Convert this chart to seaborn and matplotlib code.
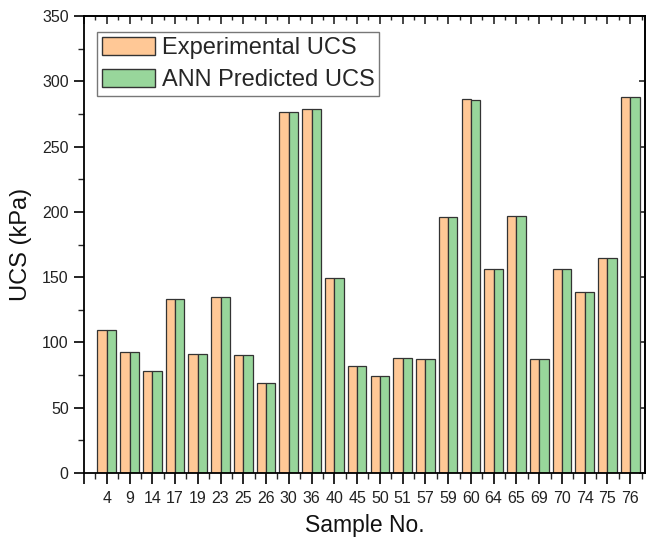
import numpy as np
import pandas as pd
import matplotlib
matplotlib.use("Agg")
import matplotlib.pyplot as plt
from matplotlib.patches import Patch
from matplotlib.ticker import FixedLocator, MultipleLocator
import seaborn as sns

# Sample numbers and measured / predicted unconfined compressive strength (kPa)
samples = ["4", "9", "14", "17", "19", "23", "25", "26", "30", "36", "40", "45",
           "50", "51", "57", "59", "60", "64", "65", "69", "70", "74", "75", "76"]
experimental = [109.3, 92.6, 78.1, 133.5, 90.9, 134.5, 90.3, 68.7, 276.2, 278.5, 149.5, 82.2,
                74.3, 88.3, 87.5, 196.0, 286.1, 156.0, 197.0, 87.5, 156.0, 138.8, 164.6, 288.1]
predicted = [109.2, 92.5, 78.0, 133.4, 90.8, 134.6, 90.2, 68.6, 276.1, 278.6, 149.4, 82.1,
             74.2, 88.2, 87.4, 196.1, 286.0, 156.1, 197.1, 87.4, 156.1, 138.7, 164.5, 288.2]
series_names = ["Experimental UCS", "ANN Predicted UCS"]
colors = ["#FFC896", "#98D69B"]

df = pd.DataFrame({
    "Sample": samples * 2,
    "UCS": experimental + predicted,
    "Series": [series_names[0]] * len(samples) + [series_names[1]] * len(samples),
})

sns.set_theme(style="ticks")
plt.rcParams["font.family"] = ["Liberation Sans", "DejaVu Sans"]

W, H = 646, 539
fig = plt.figure(figsize=(W / 100, H / 100), dpi=100)
ax = fig.add_axes([84 / W, 1 - 473 / H, (645 - 84) / W, (473 - 16) / H])

sns.barplot(data=df, x="Sample", y="UCS", hue="Series", order=samples,
            hue_order=series_names, palette=colors, width=0.82, gap=0,
            edgecolor="#333333", linewidth=0.9, saturation=1, ax=ax, legend=False)

ax.set_xlim(-1, 23.65)
ax.set_ylim(0, 350)

# bottom / left ticks point outward
ax.xaxis.set_major_locator(FixedLocator(list(range(-1, 24))))
ax.set_xticklabels([""] + samples)
ax.xaxis.set_minor_locator(FixedLocator([i + 0.5 for i in range(-1, 24)]))
ax.yaxis.set_major_locator(MultipleLocator(50))
ax.yaxis.set_minor_locator(MultipleLocator(25))
ax.tick_params(axis="x", which="major", direction="out", length=8, width=1.2,
               labelsize=11.5, pad=5, colors="black")
ax.tick_params(axis="x", which="minor", direction="out", length=4, width=1.0)
ax.tick_params(axis="y", which="major", direction="out", length=7, width=1.2,
               labelsize=11.5, pad=4, colors="black")
ax.tick_params(axis="y", which="minor", direction="out", length=4, width=1.0)
ax.tick_params(labelcolor="#222222")

# mirrored top / right ticks point inward
top = ax.secondary_xaxis("top")
top.xaxis.set_major_locator(FixedLocator(list(range(-1, 24))))
top.xaxis.set_minor_locator(FixedLocator([i + 0.5 for i in range(-1, 24)]))
top.tick_params(which="major", direction="in", length=6, width=1.2, labeltop=False)
top.tick_params(which="minor", direction="in", length=3, width=1.0)
right = ax.secondary_yaxis("right")
right.yaxis.set_major_locator(MultipleLocator(50))
right.tick_params(which="major", direction="in", length=4, width=1.2, labelright=False)
right.tick_params(which="minor", length=0)
for s in top.spines.values():
    s.set_linewidth(1.3)
for s in right.spines.values():
    s.set_linewidth(1.3)

for s in ax.spines.values():
    s.set_visible(True)
    s.set_linewidth(1.3)
    s.set_color("black")

ax.set_xlabel("Sample No.", fontsize=16.5, labelpad=6, color="#111111")
ax.set_ylabel("UCS (kPa)", fontsize=17, labelpad=7, color="#111111")

handles = [Patch(facecolor=c, edgecolor="#333333", linewidth=1.0) for c in colors]
leg = ax.legend(handles, series_names, loc="upper left",
                bbox_to_anchor=(97 / W, 1 - 32 / H), bbox_transform=fig.transFigure,
                borderaxespad=0, fontsize=17, frameon=True, fancybox=False,
                handlelength=2.25, handleheight=0.8, handletextpad=0.3,
                labelspacing=0.42, borderpad=0.2)
leg.get_frame().set_edgecolor("#555555")
leg.get_frame().set_linewidth(1.0)

fig.savefig("out.png", dpi=100)
